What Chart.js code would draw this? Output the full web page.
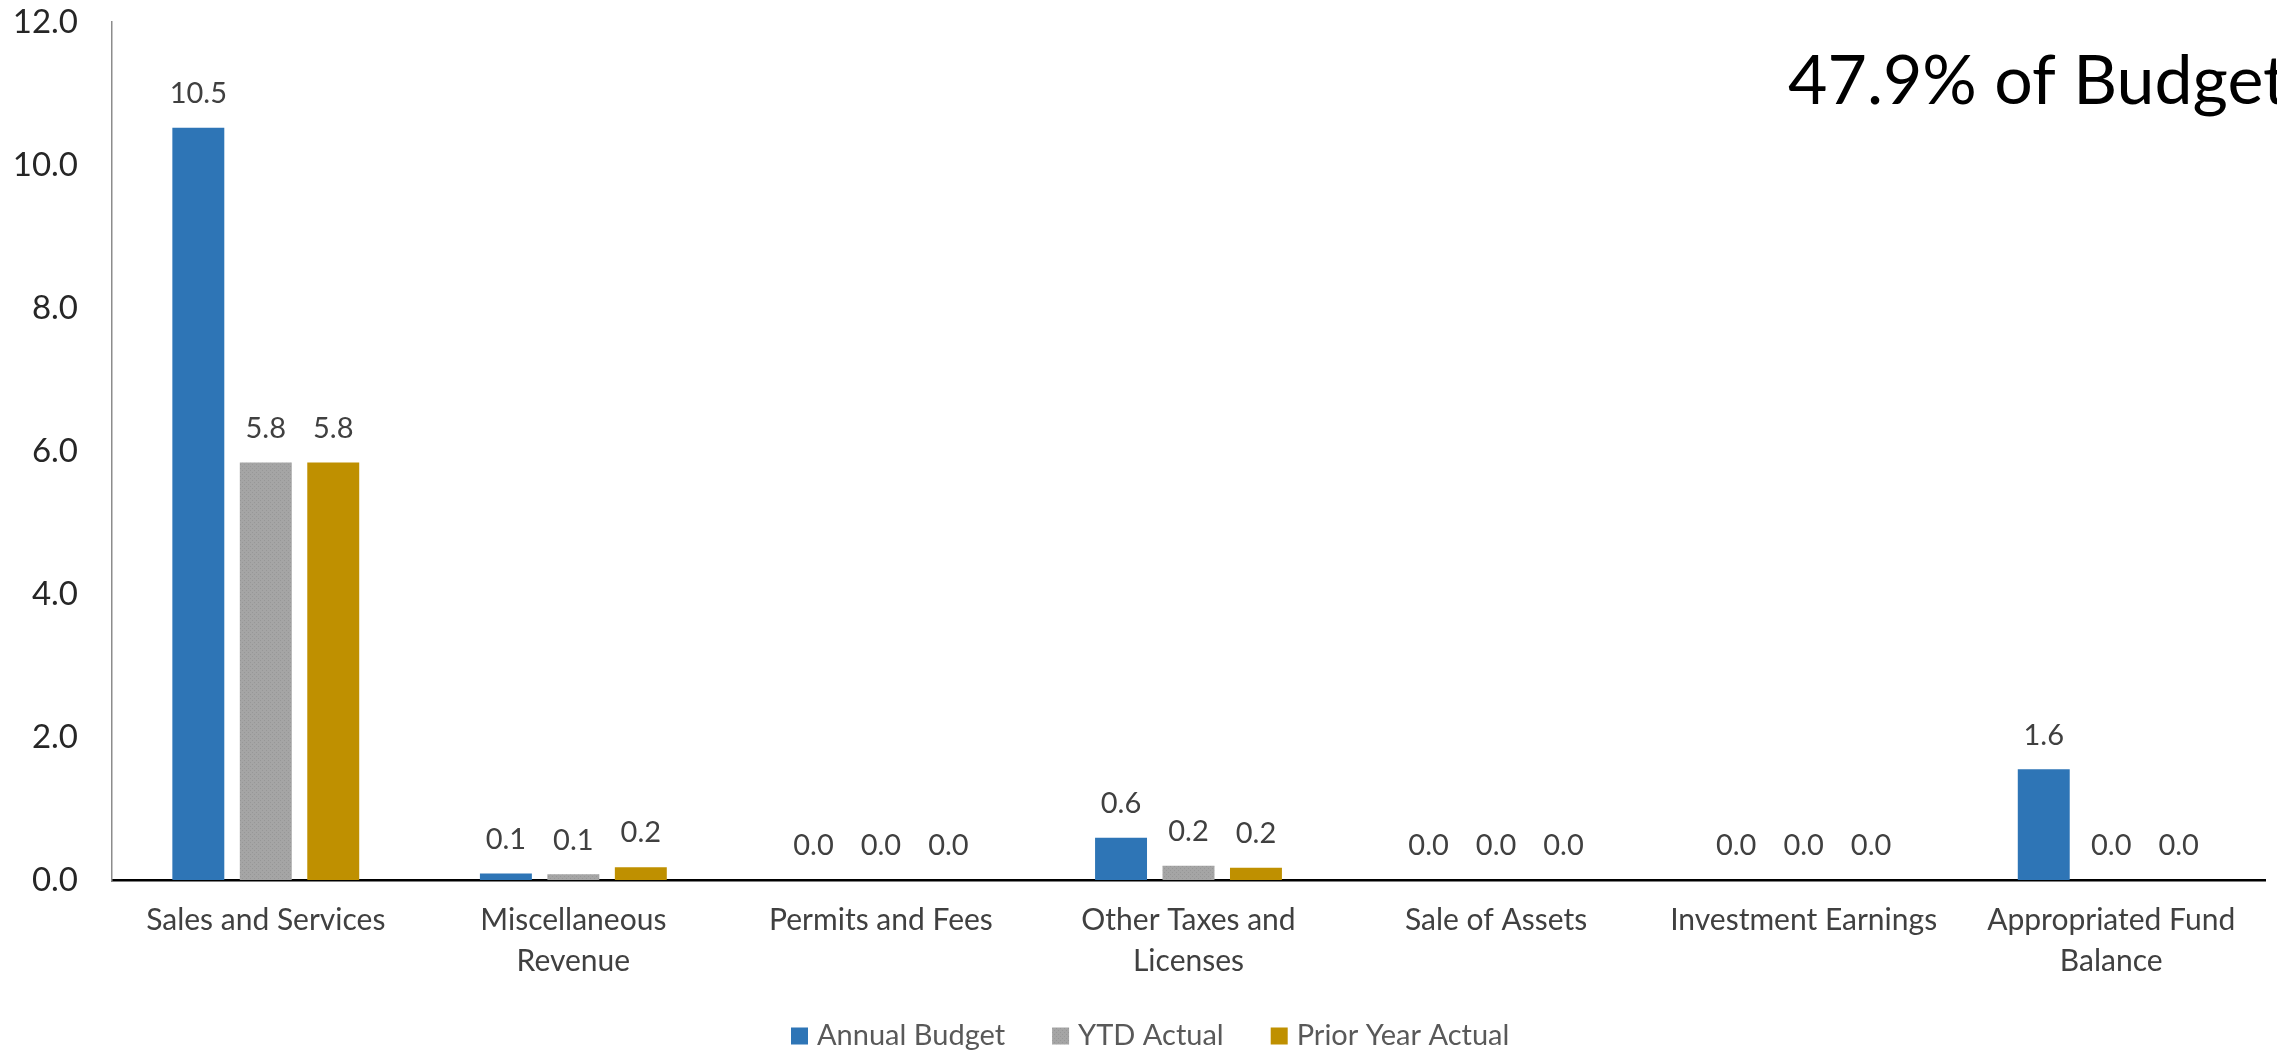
<!DOCTYPE html>
<html lang="en">
<head>
  <meta charset="UTF-8">
  <title>Revenue by Source</title>
  <style>
    html, body { margin: 0; padding: 0; background: #fff; }
    .chart-box { width: 2277px; height: 1051px; }
  </style>
  <script src="https://cdn.jsdelivr.net/npm/chart.js"></script>
</head>
<body>
  <div class="chart-box">
    <canvas id="revenueChart" width="2277" height="1051"></canvas>
  </div>

  <script>
    // Chart data (millions)
    const categories = [
      'Sales and Services',
      ['Miscellaneous', 'Revenue'],
      'Permits and Fees',
      ['Other Taxes and', 'Licenses'],
      'Sale of Assets',
      'Investment Earnings',
      ['Appropriated Fund', 'Balance']
    ];
    const annualBudget = [10.52, 0.09, 0, 0.59, 0, 0, 1.55];
    const ytdActual = [5.84, 0.08, 0, 0.2, 0, 0, 0];
    const priorYearActual = [5.84, 0.18, 0, 0.17, 0, 0, 0];
    const yTicks = [0, 2, 4, 6, 8, 10, 12];
    const budgetNote = '47.9% of Budget';

    const FONT = 'Lato, "Open Sans", sans-serif';

    // light dotted fill used for the YTD bars
    function dotPattern() {
      const c = document.createElement('canvas');
      c.width = 4;
      c.height = 4;
      const g = c.getContext('2d');
      g.fillStyle = '#a5a5a5';
      g.fillRect(0, 0, 4, 4);
      g.fillStyle = '#979797';
      g.fillRect(0, 0, 1, 1);
      g.fillRect(2, 2, 1, 1);
      return g.createPattern(c, 'repeat');
    }

    // value labels above each bar
    const barValueLabels = {
      id: 'barValueLabels',
      afterDatasetsDraw(chart) {
        const ctx = chart.ctx;
        ctx.save();
        ctx.font = `29px ${FONT}`;
        ctx.fillStyle = '#404040';
        ctx.textAlign = 'center';
        ctx.textBaseline = 'middle';
        chart.data.datasets.forEach((ds, i) => {
          chart.getDatasetMeta(i).data.forEach((bar, j) => {
            ctx.fillText(ds.data[j].toFixed(1), bar.x, bar.y - 34);
          });
        });
        ctx.restore();
      }
    };

    // big note in the top right corner
    const budgetNoteText = {
      id: 'budgetNoteText',
      afterDraw(chart) {
        const ctx = chart.ctx;
        ctx.save();
        ctx.font = `68px ${FONT}`;
        ctx.fillStyle = '#000';
        ctx.textAlign = 'left';
        ctx.textBaseline = 'alphabetic';
        ctx.fillText(budgetNote, 1788, 104);
        ctx.restore();
      }
    };

    // legend along the bottom
    const bottomLegend = {
      id: 'bottomLegend',
      afterDraw(chart) {
        const ctx = chart.ctx;
        const box = 17;
        const yMid = 1036;
        let x = 791;
        ctx.save();
        ctx.font = `29px ${FONT}`;
        ctx.textBaseline = 'middle';
        ctx.textAlign = 'left';
        chart.data.datasets.forEach(ds => {
          ctx.fillStyle = ds.backgroundColor;
          ctx.fillRect(x, yMid - box / 2, box, box);
          x += box + 9;
          ctx.fillStyle = '#595959';
          ctx.fillText(ds.label, x, yMid);
          x += ctx.measureText(ds.label).width + 47;
        });
        ctx.restore();
      }
    };

    const ctx = document.getElementById('revenueChart');
    new Chart(ctx, {
      type: 'bar',
      data: {
        labels: categories,
        datasets: [
          { label: 'Annual Budget', data: annualBudget, backgroundColor: '#2e75b6' },
          { label: 'YTD Actual', data: ytdActual, backgroundColor: dotPattern() },
          { label: 'Prior Year Actual', data: priorYearActual, backgroundColor: '#bf9000' }
        ]
      },
      options: {
        responsive: false,
        animation: false,
        devicePixelRatio: 1,
        layout: { padding: { top: 22, right: 12, left: 0, bottom: 0 } },
        datasets: {
          bar: { categoryPercentage: 0.658, barPercentage: 0.77 }
        },
        scales: {
          x: {
            grid: { display: false, drawTicks: false },
            border: { color: '#000', width: 2.5 },
            ticks: {
              font: { family: FONT, size: 30, lineHeight: 1.37 },
              color: '#404040',
              padding: 20,
              maxRotation: 0,
              autoSkip: false
            },
            afterFit(scale) { scale.height = 171; }
          },
          y: {
            min: 0,
            max: 12,
            grid: { display: false, drawTicks: false },
            border: { color: '#8c8c8c', width: 1.5 },
            afterBuildTicks(scale) {
              scale.ticks = yTicks.map(v => ({ value: v }));
            },
            ticks: {
              font: { family: FONT, size: 33 },
              color: '#262626',
              padding: 34,
              callback: v => Number(v).toFixed(1)
            },
            afterFit(scale) {
              scale.width = 112;
              // keep the plot top where the reference has it
              scale.paddingTop = 0;
              scale.paddingBottom = 0;
            }
          }
        },
        plugins: {
          legend: { display: false },
          tooltip: { enabled: false }
        }
      },
      plugins: [barValueLabels, budgetNoteText, bottomLegend]
    });
  </script>
</body>
</html>
